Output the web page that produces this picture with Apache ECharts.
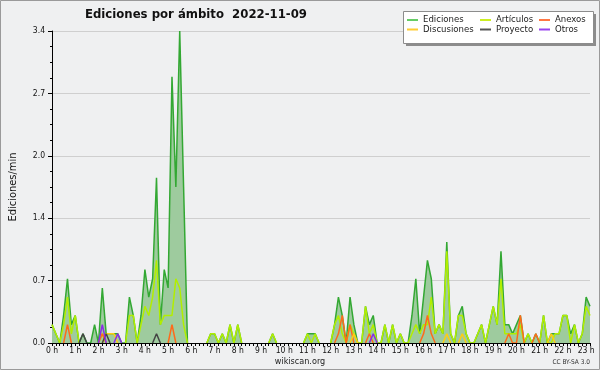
<!DOCTYPE html>
<html>
<head>
<meta charset="utf-8">
<script src="https://cdn.jsdelivr.net/npm/echarts@6/dist/echarts.min.js"></script>
<style>
html,body{margin:0;padding:0;background:#eff0f1;}
#chart{width:600px;height:370px;}
</style>
</head>
<body>
<div id="chart"></div>
<script>
// bins de 10 minutos, 00:00 -> 23:10
let horas = [];
for (let i = 0; i < 140; i++) {
  horas.push(String(Math.floor(i / 6)).padStart(2, '0') + ':' + String((i % 6) * 10).padStart(2, '0'));
}

let ediciones = [
  0.2,0.1,0,0.3,0.7,0.2,0.3,0,0.1,0,0,0.2,0,0.6,0.1,0.1,0.1,0.1,0,0,
  0.5,0.3,0,0.3,0.8,0.5,0.7,1.8,0.2,0.8,0.6,2.9,1.7,3.4,1.7,0,0,0,0,0,
  0,0.1,0.1,0,0.1,0,0.2,0,0.2,0,0,0,0,0,0,0,0,0.1,0,0,
  0,0,0,0,0,0,0.1,0.1,0.1,0,0,0,0,0.2,0.5,0.3,0,0.5,0.2,0,
  0,0.4,0.2,0.3,0,0,0.2,0,0.2,0,0.1,0,0,0.3,0.7,0.1,0.5,0.9,0.7,0.1,
  0.2,0.1,1.1,0.1,0,0.3,0.4,0.1,0,0,0.1,0.2,0,0.2,0.4,0.2,1.0,0.2,0.2,0.1,
  0.2,0.3,0,0.1,0,0.1,0,0.3,0,0.1,0.1,0.1,0.3,0.3,0.1,0.2,0,0.1,0.5,0.4
];
let articulos = [
  0.2,0.1,0,0.2,0.5,0.1,0.3,0,0,0,0,0,0,0.1,0,0,0,0,0,0,
  0.3,0.3,0,0.2,0.4,0.3,0.5,0.9,0.2,0.3,0.3,0.3,0.7,0.6,0.2,0,0,0,0,0,
  0,0.1,0.1,0,0.1,0,0.2,0,0.2,0,0,0,0,0,0,0,0,0.1,0,0,
  0,0,0,0,0,0,0.1,0,0.1,0,0,0,0,0.2,0.3,0.1,0,0.2,0.1,0,
  0,0.4,0.1,0.2,0,0,0.2,0,0.2,0,0.1,0,0,0.1,0.2,0.1,0.2,0.2,0.5,0.1,
  0.2,0.1,1.0,0.1,0,0.3,0.3,0.1,0,0,0.1,0.2,0,0.2,0.4,0.2,0.7,0.1,0.1,0.1,
  0.1,0.2,0,0.1,0,0,0,0.3,0,0,0.1,0.1,0.3,0.3,0,0.2,0,0.1,0.4,0.3
];
let anexos = [
  0,0,0,0,0.2,0,0,0,0,0,0,0,0,0.1,0,0,0,0,0,0,
  0,0,0,0,0,0,0,0,0,0,0,0.2,0,0,0,0,0,0,0,0,
  0,0,0,0,0,0,0,0,0,0,0,0,0,0,0,0,0,0,0,0,
  0,0,0,0,0,0,0,0,0,0,0,0,0,0,0.1,0.3,0,0.2,0,0,
  0,0,0.1,0,0,0,0,0,0,0,0,0,0,0,0,0,0.1,0.3,0.1,0,
  0,0,0,0,0,0,0,0,0,0,0,0,0,0,0,0,0,0,0.1,0,
  0,0.3,0,0,0,0.1,0,0,0,0,0,0,0,0,0,0,0,0,0,0
];
let discusiones = [
  0,0,0,0,0,0,0,0,0,0,0,0,0,0,0.1,0.1,0.1,0,0,0,
  0,0,0,0,0,0,0,0,0,0,0,0,0,0,0,0,0,0,0,0,
  0,0,0,0,0,0,0,0,0,0,0,0,0,0,0,0,0,0,0,0,
  0,0,0,0,0,0,0,0,0,0,0,0,0,0,0,0,0,0,0.1,0,
  0,0,0,0,0,0,0,0,0,0,0,0,0,0,0,0,0,0,0,0,
  0,0,0.1,0,0,0,0.1,0,0,0,0,0,0,0,0,0,0,0,0,0,
  0,0,0,0,0,0,0,0,0,0.1,0,0,0,0,0,0,0,0,0,0
];
let proyecto = [
  0,0,0,0,0,0,0,0,0.1,0,0,0,0,0,0.1,0,0,0,0,0,
  0,0,0,0,0,0,0,0.1,0,0,0,0,0,0,0,0,0,0,0,0,
  0,0,0,0,0,0,0,0,0,0,0,0,0,0,0,0,0,0,0,0,
  0,0,0,0,0,0,0,0,0,0,0,0,0,0,0,0,0,0,0,0,
  0,0,0,0,0,0,0,0,0,0,0,0,0,0,0,0,0,0,0,0,
  0,0,0,0,0,0,0,0,0,0,0,0,0,0,0,0,0,0,0,0,
  0,0,0,0,0,0,0,0,0,0,0,0,0,0,0,0,0,0,0,0
];
let otros = [
  0,0,0,0,0,0,0,0,0,0,0,0,0,0.2,0,0,0,0.1,0,0,
  0,0,0,0,0,0,0,0,0,0,0,0,0,0,0,0,0,0,0,0,
  0,0,0,0,0,0,0,0,0,0,0,0,0,0,0,0,0,0,0,0,
  0,0,0,0,0,0,0,0,0,0,0,0,0,0,0,0,0,0,0,0,
  0,0,0,0.1,0,0,0,0,0,0,0,0,0,0,0,0,0,0,0,0,
  0,0,0,0,0,0,0,0,0,0,0,0,0,0,0,0,0,0,0,0,
  0,0,0,0,0,0,0,0,0,0,0,0,0,0,0,0,0,0,0,0
];

const FONT = "'DejaVu Sans Condensed', 'DejaVu Sans', sans-serif";

// los tramos a cero no se dibujan (el eje negro queda visible)
function trazo(arr){
  return arr.map((v, i) => (v > 0 || arr[i - 1] > 0 || arr[i + 1] > 0) ? v : null);
}

function linea(name, data, color, z){
  return {
    name: name, type: 'line', data: trazo(data), showSymbol: false, symbol: 'none',
    lineStyle: { color: color, width: 1.5 }, itemStyle: { color: color },
    z: z, animation: false
  };
}

let chart = echarts.init(document.getElementById('chart'));

let series = [
  {
    name: 'Ediciones', type: 'line', data: trazo(ediciones), showSymbol: false, symbol: 'none',
    lineStyle: { color: '#33a833', width: 1.5 }, itemStyle: { color: '#33a833' },
    areaStyle: { color: '#9ecb9e', opacity: 1 }, z: 2, animation: false
  },
  linea('Artículos', articulos, '#b2ee00', 3),
  linea('Anexos', anexos, '#ff6a1a', 4),
  linea('Discusiones', discusiones, '#ffcc11', 4),
  linea('Proyecto', proyecto, '#444444', 4),
  linea('Otros', otros, '#8a2be8', 4)
];

function leyenda(left, names, colors){
  return {
    left: left, top: 10, orient: 'vertical', itemGap: -0.5, z: 20,
    itemWidth: 11, itemHeight: 2, icon: 'rect',
    textStyle: { fontFamily: FONT, fontSize: 9.5, color: '#222' },
    data: names.map((n, k) => ({ name: n, itemStyle: { color: colors[k] } })),
    selectedMode: false
  };
}

chart.setOption({
  backgroundColor: '#eff0f1',
  animation: false,
  title: {
    text: 'Ediciones por ámbito  2022-11-09',
    left: 80, top: 3,
    textStyle: { fontFamily: FONT, fontSize: 13, fontWeight: 'bold', color: '#111' }
  },
  graphic: [
    { type: 'rect', shape: { x: 0.5, y: 0.5, width: 599, height: 369 }, style: { fill: 'none', stroke: '#9a9a9a' }, z: 100 },
    { type: 'rect', shape: { x: 406, y: 14, width: 190, height: 32 }, style: { fill: '#8c8c8c' }, z: 1 },
    { type: 'rect', shape: { x: 403.5, y: 11.5, width: 190, height: 32 }, style: { fill: '#ffffff', stroke: '#8c8c8c' }, z: 2 },
    { type: 'text', left: 'center', top: 357, style: { text: 'wikiscan.org', font: '9px ' + FONT, fill: '#222' } },
    { type: 'text', right: 10, top: 359, style: { text: 'CC BY-SA 3.0', font: '6.5px ' + FONT, fill: '#333' } }
  ],
  legend: [
    leyenda(402, ['Ediciones', 'Discusiones'], ['#66cc66', '#ffcc33']),
    leyenda(475, ['Artículos', 'Proyecto'], ['#ccee22', '#555555']),
    leyenda(534, ['Anexos', 'Otros'], ['#ff7744', '#9944ee'])
  ],
  grid: { left: 46, right: 10, top: 31, bottom: 27 },
  xAxis: {
    type: 'category', data: horas, boundaryGap: false, z: 10,
    axisLine: { lineStyle: { color: '#000', width: 1 } },
    axisTick: { interval: 0, length: 3, lineStyle: { color: '#000' } },
    axisLabel: {
      interval: 5, margin: 3, fontFamily: FONT, fontSize: 8.5, color: '#111',
      formatter: v => parseInt(v.slice(0, 2), 10) + ' h'
    },
    splitLine: { show: false }
  },
  yAxis: {
    type: 'value', min: 0, max: 3.4, interval: 0.68,
    name: 'Ediciones/min', nameLocation: 'middle', nameRotate: 90, nameGap: 33,
    nameTextStyle: { fontFamily: FONT, fontSize: 11, color: '#111' },
    axisLine: { show: true, lineStyle: { color: '#000' } },
    axisTick: { show: true, length: 4, lineStyle: { color: '#000' } },
    minorTick: { show: true, splitNumber: 4, length: 2, lineStyle: { color: '#000' } },
    axisLabel: { margin: 7, fontFamily: FONT, fontSize: 8.5, color: '#111', formatter: v => v.toFixed(1) },
    splitLine: { lineStyle: { color: '#cfcfcf', width: 1 } }
  },
  series: series
});
</script>
</body>
</html>
